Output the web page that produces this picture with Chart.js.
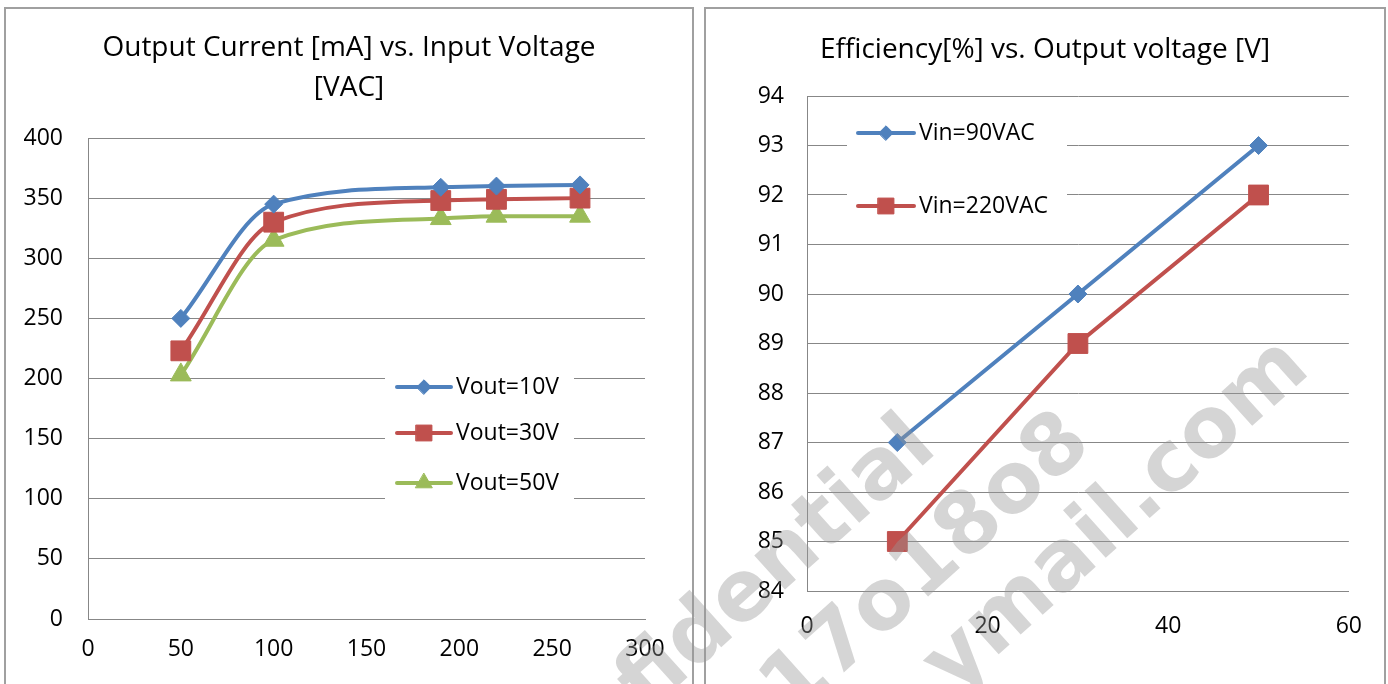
<!DOCTYPE html>
<html>
<head>
<meta charset="utf-8">
<script src="https://cdn.jsdelivr.net/npm/chart.js@4.4.1/dist/chart.umd.min.js"></script>
<style>
  body { margin: 0; background: #fff; overflow: hidden; width: 1388px; height: 684px; position: relative; }
  .panel { position: absolute; border: 2px solid #a0a0a0; box-sizing: border-box; background: #fff; }
  canvas { position: absolute; }
  #mark { position: absolute; left: 0; top: 0; pointer-events: none; }
</style>
</head>
<body>
<div class="panel" style="left:4px; top:7px; width:690px; height:700px;"></div>
<div class="panel" style="left:704px; top:7px; width:682px; height:700px;"></div>
<canvas id="current-chart" width="686" height="675" style="left:6px; top:9px;"></canvas>
<canvas id="eff-chart" width="678" height="675" style="left:706px; top:9px;"></canvas>

<svg id="mark" width="1388" height="684">
  <g font-family="DejaVu Sans" font-weight="bold" font-size="84" fill="rgb(150,150,150)" fill-opacity="0.4" text-anchor="end">
    <text x="939" y="451" transform="rotate(-42 939 451)">Confidential</text>
    <text x="1094" y="447" transform="rotate(-42 1094 447)">17o18o8</text>
    <text x="1312" y="372" transform="rotate(-42 1312 372)">ymail.com</text>
  </g>
</svg>

<script>
// ---- data ----
// left chart: output current [mA] vs input voltage [VAC]
var inputVoltage = [50, 100, 190, 220, 265];
var current10V = [250, 345, 359, 360, 361];
var current30V = [223, 330, 348, 349, 350];
var current50V = [203, 315, 333, 335, 335];
var currentLabels = ['Vout=10V', 'Vout=30V', 'Vout=50V'];
var currentXTicks = [0, 300, 50];   // min, max, step
var currentYTicks = [0, 400, 50];

// right chart: efficiency [%] vs output voltage [V]
var outputVoltage = [10, 30, 50];
var eff90 = [87, 90, 93];
var eff220 = [85, 89, 92];
var effLabels = ['Vin=90VAC', 'Vin=220VAC'];
var effXTicks = [0, 60, 20];
var effYTicks = [84, 94, 1];

var BLUE = '#4F81BD', RED = '#C0504D', GREEN = '#9BBB59';
var GRID = '#878787';
var FONT = "'Open Sans', sans-serif";

function pairs(xs, ys) {
    return xs.map(function(x, i) { return { x: x, y: ys[i] }; });
}

// draws the legend inside the plot, on a white box, like the Excel original
function insideLegend(box, rows) {
    return {
        id: 'insideLegend',
        afterDatasetsDraw: function(chart) {
            var ctx = chart.ctx;
            ctx.save();
            ctx.fillStyle = '#fff';
            ctx.fillRect(box.x, box.y, box.w, box.h);
            chart.data.datasets.forEach(function(ds, i) {
                var y = rows.y[i];
                ctx.strokeStyle = ds.borderColor;
                ctx.lineWidth = 4;
                ctx.lineCap = 'round';
                ctx.beginPath();
                ctx.moveTo(rows.x0, y);
                ctx.lineTo(rows.x1, y);
                ctx.stroke();
                // marker in the middle of the sample line
                ctx.fillStyle = ds.borderColor;
                ctx.lineWidth = 1;
                Chart.helpers.drawPoint(ctx, {
                    pointStyle: ds.pointStyle,
                    radius: ds.pointRadius * 0.8,
                    rotation: 0,
                    borderWidth: 1
                }, (rows.x0 + rows.x1) / 2, y);
                ctx.fillStyle = '#000';
                ctx.font = '23px ' + FONT;
                ctx.textBaseline = 'middle';
                ctx.textAlign = 'left';
                ctx.fillText(ds.label, rows.tx, y);
            });
            ctx.restore();
        }
    };
}

function makeDataset(label, color, style, radius, data, smooth) {
    return {
        label: label,
        data: data,
        showLine: true,
        borderColor: color,
        backgroundColor: color,
        pointBackgroundColor: color,
        pointBorderColor: color,
        borderWidth: 4,
        pointStyle: style,
        pointRadius: radius,
        pointBorderWidth: 1,
        tension: smooth ? 0.4 : 0,
        cubicInterpolationMode: smooth ? 'monotone' : 'default'
    };
}

// an empty right-hand axis keeps the room right of the plot
// without moving the title off the panel centre
function axes(xT, yT, yWidth, rightRoom, xHeight, xPad, yPad) {
    return {
        x: {
            type: 'linear', min: xT[0], max: xT[1],
            ticks: { stepSize: xT[2], color: '#000', padding: xPad, font: { family: FONT, size: 23 }, maxRotation: 0 },
            grid: { display: false, drawTicks: false },
            border: { display: true, color: GRID, width: 1 },
            afterFit: function(s) { s.height = xHeight; }
        },
        y: {
            type: 'linear', min: yT[0], max: yT[1],
            ticks: { stepSize: yT[2], color: '#000', padding: yPad, font: { family: FONT, size: 23 } },
            grid: { color: GRID, lineWidth: 1, drawTicks: false },
            border: { display: true, color: GRID, width: 1 },
            afterFit: function(s) { s.width = yWidth; }
        },
        room: {
            type: 'linear', position: 'right', min: 0, max: 1,
            ticks: { display: false },
            grid: { display: false, drawTicks: false },
            border: { display: false },
            afterFit: function(s) { s.width = rightRoom; }
        }
    };
}

Chart.defaults.font.family = FONT;

new Chart(document.getElementById('current-chart').getContext('2d'), {
    type: 'scatter',
    data: {
        datasets: [
            makeDataset(currentLabels[0], BLUE, 'rectRot', 9, pairs(inputVoltage, current10V), true),
            makeDataset(currentLabels[1], RED, 'rect', 14, pairs(inputVoltage, current30V), true),
            makeDataset(currentLabels[2], GREEN, 'triangle', 12, pairs(inputVoltage, current50V), true)
        ]
    },
    options: {
        responsive: false,
        animation: false,
        devicePixelRatio: 1,
        layout: { padding: 0 },
        plugins: {
            legend: { display: false },
            tooltip: { enabled: false },
            title: {
                display: true,
                text: ['Output Current [mA] vs. Input Voltage', '[VAC]'],
                color: '#000',
                font: { family: FONT, size: 28, weight: 'normal', lineHeight: 40 / 28 },
                padding: { top: 19, bottom: 30 }
            }
        },
        scales: axes(currentXTicks, currentYTicks, 82, 47, 65, 17, 25)
    },
    plugins: [insideLegend({ x: 379, y: 358, w: 189, h: 140 }, { x0: 391, x1: 445, tx: 450, y: [378, 424, 474] })]
});

new Chart(document.getElementById('eff-chart').getContext('2d'), {
    type: 'scatter',
    data: {
        datasets: [
            makeDataset(effLabels[0], BLUE, 'rectRot', 9, pairs(outputVoltage, eff90), false),
            makeDataset(effLabels[1], RED, 'rect', 14, pairs(outputVoltage, eff220), false)
        ]
    },
    options: {
        responsive: false,
        animation: false,
        devicePixelRatio: 1,
        layout: { padding: 0 },
        plugins: {
            legend: { display: false },
            tooltip: { enabled: false },
            title: {
                display: true,
                text: 'Efficiency[%] vs. Output voltage [V]',
                color: '#000',
                font: { family: FONT, size: 28, weight: 'normal', lineHeight: 40 / 28 },
                padding: { top: 21, bottom: 26 }
            }
        },
        scales: axes(effXTicks, effYTicks, 101, 32, 93, 22, 23)
    },
    plugins: [insideLegend({ x: 141, y: 101, w: 220, h: 115 }, { x0: 152, x1: 208, tx: 213, y: [124, 197] })]
});
</script>
</body>
</html>
